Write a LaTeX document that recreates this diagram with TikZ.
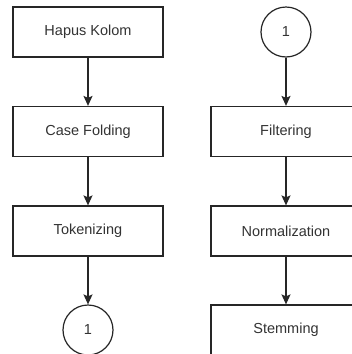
\documentclass[tikz,border=0pt]{standalone}
\usepackage{fontspec}
\setmainfont{Liberation Sans}
\usepackage{xcolor}
\usetikzlibrary{arrows.meta}
\definecolor{txtgray}{HTML}{333333}

\begin{document}
\begin{tikzpicture}[x=1pt,y=-1pt,
  procbox/.style={draw=black!85, line width=1.2pt, fill=white, minimum width=150pt, minimum height=50pt, inner sep=0pt, text=txtgray, font=\fontsize{14.5}{17}\selectfont},
  conn/.style={draw=black!85, line width=1.2pt, fill=white, circle, minimum size=50pt, inner sep=0pt, text=txtgray, font=\fontsize{14.5}{17}\selectfont},
  flow/.style={draw=black!85, line width=1.2pt, -{Stealth[length=10pt,width=9pt,inset=2pt]}}]
\clip (0,0) rectangle (352,354);
\useasboundingbox (0,0) rectangle (352,354);
% left column
\node[procbox] (hapus) at (88,32) {Hapus Kolom};
\node[procbox] (casefold) at (88,131.5) {Case Folding};
\node[procbox] (token) at (88,231) {Tokenizing};
\node[conn] (conA) at (88,330) {1};
% right column
\node[conn] (conB) at (286,32) {1};
\node[procbox] (filter) at (286,131.5) {Filtering};
\node[procbox] (normal) at (286,231) {Normalization};
\node[procbox] (stem) at (286,330) {Stemming};
\draw[flow] (hapus) -- (casefold);
\draw[flow] (casefold) -- (token);
\draw[flow] (token) -- (conA);
\draw[flow] (conB) -- (filter);
\draw[flow] (filter) -- (normal);
\draw[flow] (normal) -- (stem);
\end{tikzpicture}
\end{document}
